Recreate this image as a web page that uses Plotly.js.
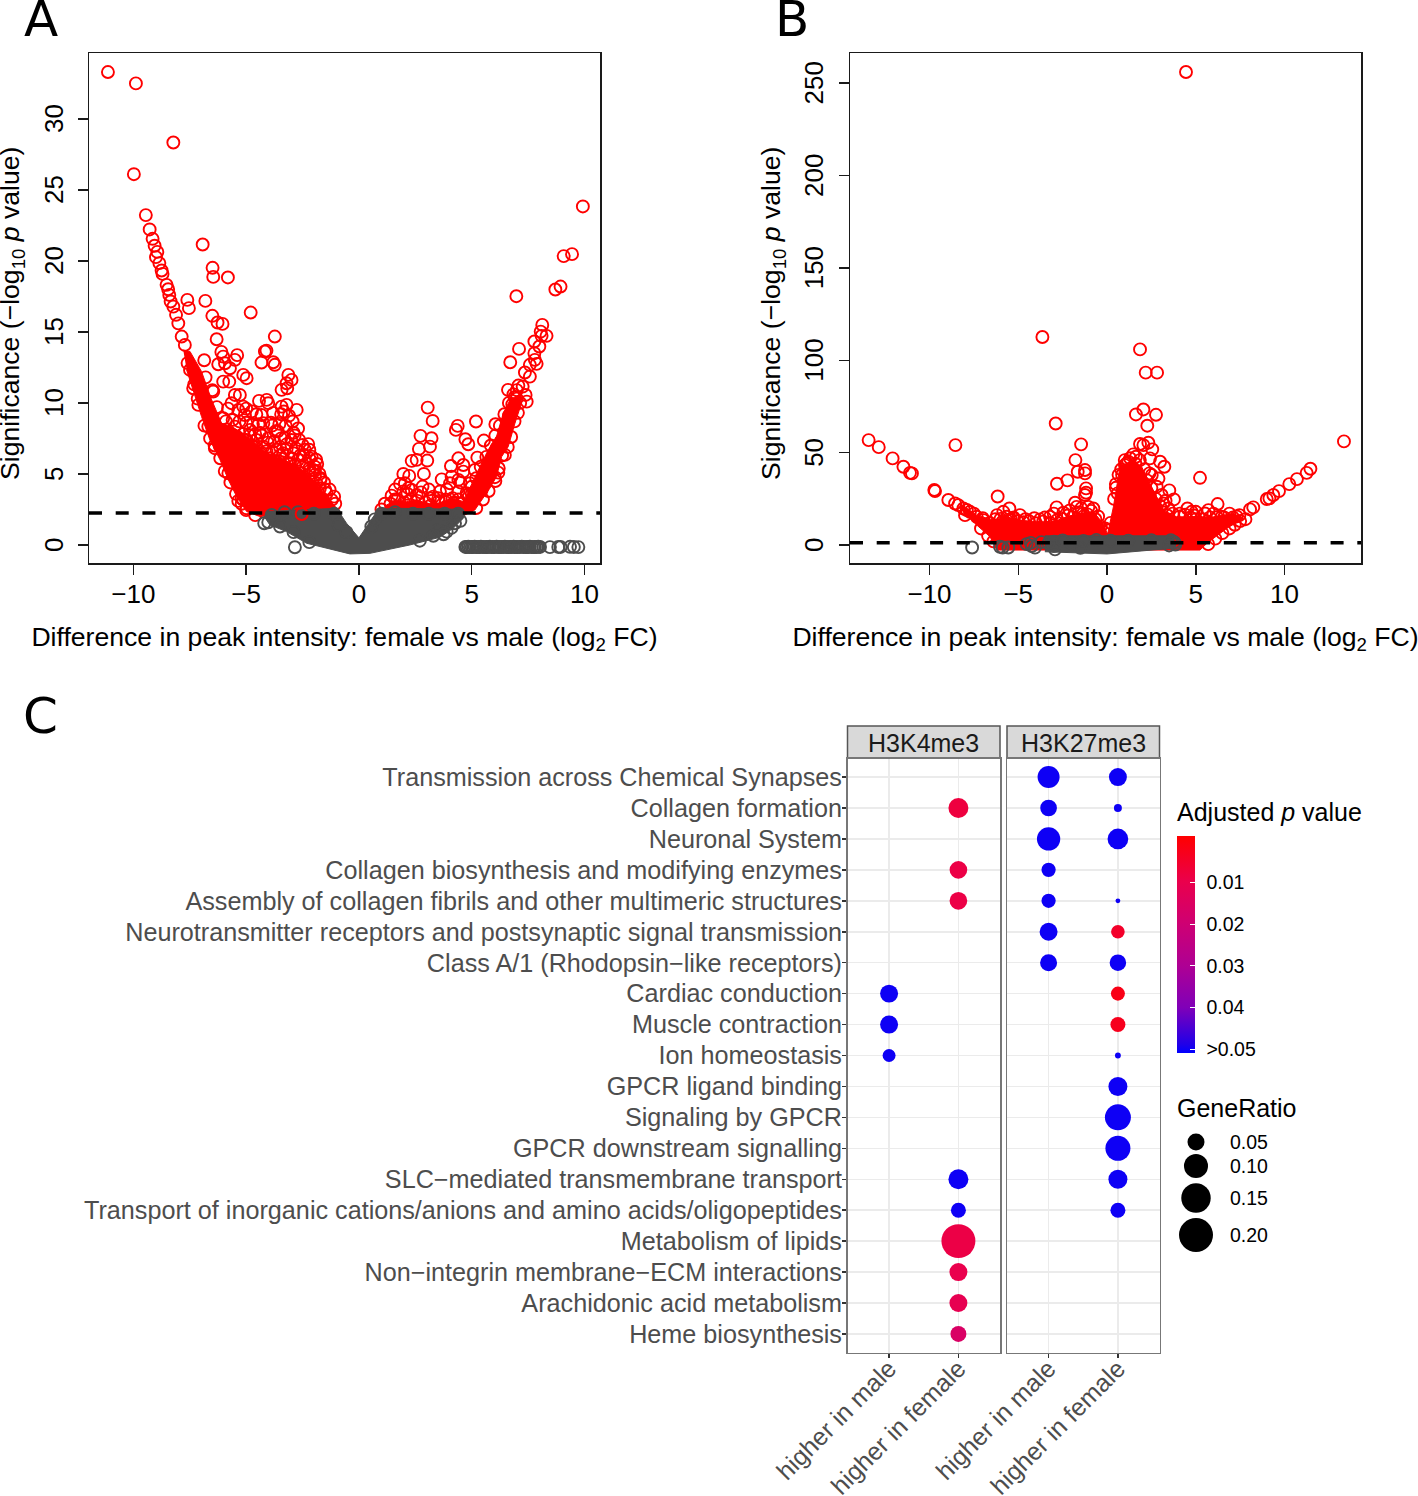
<!DOCTYPE html>
<html><head><meta charset="utf-8"><script src="https://cdn.plot.ly/plotly-3.0.1.min.js"></script>
<style>html,body{margin:0;padding:0;background:#fff}</style></head><body><div id="g" style="width:1418px;height:1496px"></div>
<script>
// Values are read by eye from the picture. Circles that can be told apart are listed one by one;
// where thousands of circles overlap into a solid mass, only the outline of that mass is readable,
// so it is kept as an outline (cloud arrays) rather than as invented individual points.
const aRedX=[-11.13,-9.89,-8.23,-9.98,-9.45,-9.28,-9.15,-9.06,-8.94,-9.0,-8.85,-8.75,-8.71,-8.53,-8.46,-8.41,-8.35,-8.23,-8.11,-8.01,-7.86,-7.72,-7.61,-7.54,-6.93,-6.49,-6.46,-5.81,-6.81,-6.5,-6.27,-6.05,-4.8,-6.31,-3.73,-6.86,-6.1,-6.02,-6.24,-5.94,-5.72,-5.4,-5.5,-5.13,-4.98,-6.02,-5.75,-6.46,-5.5,-5.28,-5.65,-5.13,-4.17,-4.1,-4.32,-3.8,-3.73,-3.13,-2.99,-3.21,-3.43,-3.18,-4.43,-4.09,-4.02,-3.43,-3.21,-2.76,-3.33,-4.32,-4.24,-3.53,-2.94,-4.02,-3.3,-3.0,-2.5,-2.1,-1.95,-1.95,-1.73,-1.21,-6.39,-6.68,-7.12,-7.35,-7.49,-6.02,-5.5,-5.06,-4.83,-5.57,-4.98,-4.54,-5.28,-4.69,-4.24,-3.65,-3.95,-3.36,-2.91,-2.47,-3.06,-2.32,-2.03,-2.62,-1.88,-1.43,-3.13,-5.13,-5.2,-4.98,-5.79,-6.16,-5.79,-2.2,-2.7,-3.5,-4.4,-3.2,-3.9,-2.9,-2.4,-1.7,-1.5,-3.55,-4.75,-2.75,-3.7,
-5.8,-5.35,-5.0,-4.75,-4.55,-3.8,-3.45,-3.1,-5.9,-5.6,-5.3,-5.0,-4.7,-4.45,-3.85,-3.6,-3.25,-2.7,-5.95,-5.7,-5.4,-5.15,-4.85,-4.6,-4.3,-4.05,-3.75,-3.45,-2.85,-2.65,-2.25,-2.2,-5.65,-5.35,-5.1,-4.9,-4.6,-4.35,-4.1,-3.85,-3.5,-3.2,-3.0,-2.8,-2.6,-2.2,-1.9,-1.85,-4.7,-4.45,-4.2,-3.9,-3.7,-3.35,-3.1,-2.85,-2.5,-2.2,-1.95,-1.75,-1.7,-1.55,-1.3,-1.1,-1.05,-7.15,-7.3,-7.6,-6.85,-6.6,-6.4,-6.15,-5.95,-5.7,-5.45,-5.35,-5.2,-5.0,-4.6,-6.8,-6.5,-6.3,
1.45,1.82,2.04,1.97,2.23,2.34,2.56,2.66,2.73,2.82,2.88,3.03,3.05,3.15,3.15,3.22,3.27,2.34,1.97,2.56,4.38,4.3,5.19,4.72,4.85,5.54,6.05,5.25,4.41,4.08,4.63,4.63,4.11,3.67,5.14,4.92,4.41,4.04,3.59,4.41,4.77,3.52,4.18,5.44,6.18,6.03,6.47,6.1,6.98,7.1,6.71,7.36,7.58,6.61,7.07,7.26,7.39,7.44,7.58,7.88,7.8,7.78,8.0,7.78,8.1,8.32,8.06,8.13,8.71,8.94,9.08,9.45,9.93,6.8,6.65,6.5,6.3,6.9,7.0,5.9,5.6,5.4,5.0,3.3,3.85,2.15,1.6,
6.9,7.05,7.15,6.75,6.6,6.35,6.2,6.05,5.75,5.5,5.2,6.45,6.25,6.05,5.85,5.65,5.4,5.2,5.0,4.8,4.55,6.65,6.85,7.0,1.15,1.4,1.7,2.0,2.3,2.6,2.95,3.2,3.55,3.85,4.15,4.4,1.0,1.6,2.2,2.75,3.1,3.9,4.5];
const aRedY=[33.29,32.49,28.33,26.1,23.22,22.21,21.55,21.06,20.63,20.26,19.84,19.32,19.08,18.31,18.0,17.6,17.14,16.78,16.2,15.6,14.67,14.08,17.25,16.67,21.15,19.51,18.87,18.83,17.18,16.13,15.66,15.56,16.36,14.48,14.67,13.0,13.59,13.26,12.72,12.79,12.44,13.36,13.03,11.97,11.74,11.5,11.5,10.8,10.56,10.56,9.98,9.74,13.62,13.68,12.84,12.86,12.68,11.97,11.62,11.38,10.92,11.03,10.14,10.21,9.98,9.74,9.86,9.51,9.39,9.15,8.57,8.52,8.69,7.51,7.51,7.39,7.04,6.22,5.23,4.93,3.99,3.17,6.81,8.33,9.86,11.03,12.32,8.92,8.33,9.15,8.1,7.51,7.39,7.39,6.81,6.57,6.92,6.69,6.1,6.46,6.46,6.34,5.75,5.75,5.28,5.05,4.34,3.64,5.05,3.17,3.29,2.58,5.05,6.92,6.46,5.2,6.0,6.9,7.9,7.1,8.6,7.9,6.7,4.7,3.9,5.9,7.0,4.3,8.0,
9.6,9.5,9.6,9.4,9.2,9.3,9.2,9.1,8.7,8.8,8.7,8.6,8.5,8.5,8.4,8.0,8.4,8.2,7.9,7.7,7.6,7.8,7.7,7.8,7.7,7.2,7.3,7.5,7.7,7.4,7.1,6.7,6.7,6.5,6.8,6.4,6.9,6.4,6.6,6.6,6.3,6.8,6.1,6.8,6.3,6.1,6.0,5.7,5.9,5.7,6.0,5.7,5.9,5.8,5.7,5.6,5.5,5.4,5.5,5.0,4.6,4.4,3.9,3.4,2.9,10.3,11.3,12.8,8.4,7.5,7.0,6.1,5.2,4.4,3.6,3.1,2.9,2.45,2.1,11.8,10.9,9.7,
3.47,4.3,4.34,5.0,4.86,5.92,5.99,6.76,7.68,4.11,5.0,5.94,9.67,6.92,3.29,7.51,8.73,3.87,3.76,3.52,8.38,8.1,8.69,7.44,7.09,7.35,8.5,6.15,6.1,5.56,5.63,5.16,4.81,4.62,5.28,4.34,4.58,4.34,3.76,3.76,3.64,3.29,2.93,3.87,5.09,4.77,6.34,6.81,17.51,13.8,12.86,12.14,11.85,10.92,11.22,11.15,10.56,10.09,12.68,12.75,13.03,13.5,13.97,14.32,14.72,14.72,15.02,15.49,17.98,18.19,20.33,20.47,23.83,9.9,9.1,8.1,7.3,10.4,10.9,5.7,5.0,4.4,3.6,3.4,3.2,3.6,3.2,
8.7,9.3,10.0,7.6,6.9,6.3,5.4,4.5,3.8,3.2,2.6,9.2,8.4,7.7,7.0,6.2,5.5,4.7,4.1,3.5,2.9,10.0,10.6,10.3,2.9,2.9,3.2,3.0,3.2,3.1,3.0,2.8,3.1,3.0,3.3,3.2,2.5,3.9,4.0,3.7,3.9,3.9,4.4];
const aRedCloudX=[-7.79,-7.49,-6.98,-6.53,-6.09,-5.6,-5.1,-4.6,-4.1,-3.4,-2.76,-2.03,-1.43,-0.99,-4.39,-4.98,-5.42,-5.79,-6.16,-6.61,-6.98,-7.35,-7.64];
const aRedCloudY=[13.73,13.62,12.21,10.21,8.57,8.3,7.8,7.2,6.5,6.0,5.6,4.6,3.4,2.58,2.0,2.35,3.4,4.58,5.99,7.39,9.04,10.92,12.32];
const aRedCloud2X=[1.0,1.23,1.67,2.11,2.56,3.22,3.74,4.18,4.63,5.0,5.37,5.73,6.1,6.4,6.7,7.07,7.21,6.92,6.62,6.33,6.1,5.81,5.51,5.14,4.7,1.0];
const aRedCloud2Y=[2.28,2.82,3.17,3.05,3.17,2.82,3.05,3.29,3.05,4.34,5.52,6.69,7.63,9.27,10.21,10.56,9.98,8.57,6.92,6.22,4.81,4.0,3.29,2.46,2.11,2.11];
const aGreyCloudX=[-4.09,-0.99,-0.55,0,0.86,1.82,4.55,4.63,4.18,3.59,2.26,0.49,-0.4,-1.14,-2.32,-3.21,-3.95,-4.2];
const aGreyCloudY=[2.35,2.58,1.53,0.5,2.51,2.58,2.51,1.88,1.17,0.54,0,-0.59,-0.63,-0.35,0.12,0.94,1.41,2.0];
const aGreyX=[-2.84,-4.2,-4.02,-3.87,3.52,3.89,4.26,4.72,4.78,4.85,4.92,5.0,5.06,5.13,5.2,5.28,5.35,5.41,5.5,5.58,5.66,5.71,5.8,5.88,5.95,6.02,6.1,6.17,6.25,6.31,6.4,6.47,6.56,6.62,6.7,6.78,6.86,6.91,7.0,7.05,7.14,7.22,7.3,7.38,7.45,7.5,7.58,7.66,7.74,7.8,7.88,7.95,8.03,8.47,8.84,8.94,9.36,9.53,9.73,
-3.3,-2.7,-2.0,-1.1,1,1.6,2.4,3.1,3.8,4.4,4.5,4.1,3.75,3.3,2.7,-3.5,-2.9,-2.2,-0.9,-0.55,0.55,0.7];
const aGreyY=[-0.16,1.53,1.6,2.11,1.06,0.94,1.53,-0.14,-0.14,-0.13,-0.15,-0.14,-0.14,-0.13,-0.14,-0.15,-0.14,-0.13,-0.14,-0.15,-0.14,-0.14,-0.13,-0.15,-0.14,-0.14,-0.13,-0.14,-0.15,-0.14,-0.14,-0.13,-0.14,-0.15,-0.14,-0.14,-0.13,-0.14,-0.15,-0.14,-0.14,-0.13,-0.14,-0.15,-0.14,-0.14,-0.13,-0.14,-0.15,-0.14,-0.14,-0.13,-0.14,-0.15,-0.14,-0.14,-0.13,-0.14,-0.15,
2.3,2.3,2.2,2.2,2.2,2.3,2.2,2.2,2.2,2.2,1.7,1.2,0.75,0.65,0.3,1.3,0.9,0.2,1.4,0.9,1.3,1.8];
const aLateRedX=[-2.54]; const aLateRedY=[2.18];
const aThreshold=2.25;

const bRedX=[4.45,-3.64,-2.89,-1.46,-8.54,-13.43,-12.86,-12.08,-11.47,-11.1,-10.99,-9.73,-9.69,-8.94,-8.56,-8.38,-8.0,-8.09,-7.72,-7.34,-6.97,-6.16,-1.78,-1.65,-1.24,-1.24,-2.23,-2.82,-1.18,-1.18,-1.24,-2.84,-1.8,-1.71,-1.05,-0.77,-2.46,-3.21,-3.77,-4.9,-5.5,-5.84,-6.2,-5.65,-5.25,-4.6,-4.1,-3.5,-3.0,-2.1,-1.45,-0.9,-0.5,-6.0,-5.4,
1.86,2.18,2.82,2.05,1.63,2.76,2.27,1.86,2.33,2.05,2.55,1.48,1.63,2.42,2.99,3.23,1.01,1.2,2.39,2.52,5.24,13.35,11.46,11.25,10.7,10.27,9.69,9.37,9.15,9.0,8.24,8.06,7.46,6.23,5.71,4.53,4.77,3.51,3.77,2.8,3.08,3.17,3.45,6.46,5.52,0.6,0.5,0.85,1.1,2.9,3.3,4.1,4.9,5.0,6.0,6.9,7.3,7.8,
-7.9,-7.5,-7.0,-6.6,-6.3,-5.9,-5.6,-5.3,-5.05,-4.7,-4.4,-4.0,-3.6,-3.2,-2.8,-2.5,-2.2,-1.95,-1.6,-1.35,-1.1,-0.65,-0.35,-7.1,-6.7,-6.4,
0.4,0.5,0.65,0.8,1.0,1.3,1.6,1.85,2.1,2.25,2.5,2.75,3.0,3.4,3.7,4.1,4.4,4.7,5.0,5.4,5.8,6.2,6.6,7.1,7.5,7.2,6.9,6.5,6.1,5.7,0.2,0.1,-0.1];
const bRedY=[256,112.6,65.8,54.5,54.1,56.8,53.0,46.9,42.4,39.1,38.8,29.8,29.2,24.4,22.5,21.6,16.2,19.8,18.0,15.3,13.5,26.3,46.0,39.7,40.6,38.8,35.0,33.2,30.7,28.3,27.1,20.4,22.9,20.7,20.7,19.8,17.5,15.3,13.9,16.2,19.8,18.0,16.2,15.3,14.9,14.0,14.5,14.9,17.0,18.7,19.9,18.5,15.5,14.2,13.6,
105.9,93.3,93.3,73.4,70.7,70.5,64.6,54.7,55.4,54.1,51.8,49.1,47.8,46.9,45.1,42.4,43.3,45.1,38.8,37.9,36.4,56.1,41.3,39.1,35.7,33.0,29.2,27.1,25.3,24.9,20.4,19.3,16.2,22.2,18.9,19.8,18.0,29.6,24.7,31.6,27.1,22.5,19.8,15.3,17.1,28,33,38,44,36,24,17,16,18,17,17,15.5,14,
19,17,14.5,12,14,12.5,13,14.6,13,12.4,13,11.8,12.7,12,13.6,14.2,16,15,17.7,17,16.6,14,10,9,5,2,
25,31,38,41,46,47,44,46,41,35,31,25,21,16,17,15.5,16.5,15,14,14,15,15,15,15,13,11,9,6.5,3.5,0.5,12,8,9];
const bRedCloudX=[-8.28,-7.34,-6.4,-5.65,-4.9,-3.96,-3.02,-2.27,-1.52,-0.77,-0.21,0.08,0.08,-6.22,-6.59,-7.44,-8.28];
const bRedCloudY=[22.5,16.2,13.5,15.3,13.5,12.6,12.6,15.3,17.1,18.0,11.7,4.5,-2.7,-2.7,4.5,11.7,19.8];
const bRedCloud2X=[0,0.36,0.73,1.48,1.95,2.23,2.7,3.17,3.92,5.24,5.99,7.12,7.68,6.74,5.62,5.24,0.36];
const bRedCloud2Y=[4.5,20.7,42.4,46,42.4,37,28,18.9,15.3,15.3,15.3,17.1,14.4,9,0.9,-2.7,-2.7];
const bGreyCloudX=[-3.5,3.74,3.8,3.6,0,-3.5];
const bGreyCloudY=[5,5,0,-1.8,-4.8,-3.6];
const bGreyX=[-7.6,-6.03,-5.88,-5.56,-4.53,-4.24,-4.06,-2.99,-2.93,-1.33,-3.7,-4.3,-3.3,-3.0,3.8,3.5,3.85,3.6,-2.5,-2,-1.5,1.2,2.5,0.2,-0.6];
const bGreyY=[-1.3,-0.9,-1.3,-1.3,0.5,-0.5,-1.4,1.8,-2.3,2.3,1.6,1.2,1,-0.5,1.5,-0.2,0.3,2.6,2.5,1,-1.5,2.4,2.6,2.4,2.8];
const bThreshold=1.3;

const pathways=["Transmission across Chemical Synapses","Collagen formation","Neuronal System","Collagen biosynthesis and modifying enzymes","Assembly of collagen fibrils and other multimeric structures","Neurotransmitter receptors and postsynaptic signal transmission","Class A/1 (Rhodopsin\u2212like receptors)","Cardiac conduction","Muscle contraction","Ion homeostasis","GPCR ligand binding","Signaling by GPCR","GPCR downstream signalling","SLC\u2212mediated transmembrane transport","Transport of inorganic cations/anions and amino acids/oligopeptides","Metabolism of lipids","Non\u2212integrin membrane\u2212ECM interactions","Arachidonic acid metabolism","Heme biosynthesis"];
const groups=["higher in male","higher in female"];
const k4Path=[7,8,9,1,3,4,13,14,15,16,17,18];
const k4Group=[0,0,0,1,1,1,1,1,1,1,1,1];
const k4Ratio=[.056,.056,.029,.069,.054,.054,.069,.039,.2,.056,.056,.044];
const k4P=[.05,.05,.05,.008,.009,.009,.05,.05,.009,.010,.011,.016];
const k27Path=[0,1,2,3,4,5,6,0,1,2,4,5,6,7,8,9,10,11,12,13,14];
const k27Group=[0,0,0,0,0,0,0,1,1,1,1,1,1,1,1,1,1,1,1,1,1];
const k27Ratio=[.084,.048,.094,.035,.035,.056,.05,.056,.011,.074,.004,.032,.047,.034,.039,.006,.0625,.117,.108,.0625,.039];
const k27P=[.05,.05,.05,.05,.05,.05,.05,.05,.05,.05,.05,.005,.05,.002,.003,.05,.05,.05,.05,.05,.05];
const pTicks=[.01,.02,.03,.04,.05];
const pTickText=["0.01","0.02","0.03","0.04",">0.05"];
const ratioKeys=[.05,.10,.15,.20];
const ratioKeyText=["0.05","0.10","0.15","0.20"];

const W=1418,H=1496,FONT='"Liberation Sans",Arial,sans-serif';
const dx=(a,b)=>[a/W,b/W], dy=(top,bot)=>[1-bot/H,1-top/H];
const RED='#ff0000',GREY='#4d4d4d';
const ring=c=>({symbol:'circle-open',size:12,color:c,opacity:1,line:{width:1.9,color:c}});
const cloud=(x,y,c,ax,ay)=>({type:'scatter',mode:'lines',x:x,y:y,xaxis:ax,yaxis:ay,fill:'toself',fillcolor:c,line:{width:1,color:c},hoverinfo:'skip'});
const pts=(x,y,c,ax,ay)=>({type:'scatter',mode:'markers',x:x,y:y,xaxis:ax,yaxis:ay,marker:ring(c)});
const dash=(rng,t,ax,ay)=>({type:'scatter',mode:'lines',x:rng,y:[t,t],xaxis:ax,yaxis:ay,line:{color:'#000',width:3.5,dash:'13px,13.7px'}});
// The key runs from small p at the top to large p at the bottom, so colours are carried as -p.
const cs=[[0,'#0000ff'],[.04,'#2000e8'],[.21,'#8000b8'],[.40,'#ae0094'],[.60,'#cf0072'],[.79,'#ea004c'],[1,'#ff0000']];
const SIZEREF=1/2888;
const dots=(path,grp,ratio,p,ax,ay,bar)=>({type:'scatter',mode:'markers',x:grp.map(i=>groups[i]),y:path.map(i=>pathways[i]),xaxis:ax,yaxis:ay,
  marker:{size:ratio,sizemode:'area',sizeref:SIZEREF,opacity:1,color:p.map(v=>-v),cmin:-.0509,cmax:.0011,colorscale:cs,line:{width:0},showscale:bar,
  colorbar:bar?{x:1177/W,xanchor:'left',xpad:0,y:1-836/H,yanchor:'top',ypad:0,len:217/H,lenmode:'fraction',thickness:18,thicknessmode:'pixels',outlinewidth:0,
    tickmode:'array',tickvals:pTicks.map(v=>-v),ticktext:pTickText.map(t=>'\u00a0\u200a'+t),ticks:'inside',tickcolor:'#fff',ticklen:5,tickwidth:1,tickfont:{family:FONT,size:19.5,color:'#000'}}:undefined}});
const data=[
 cloud(aRedCloudX,aRedCloudY,RED,'x','y'),cloud(aRedCloud2X,aRedCloud2Y,RED,'x','y'),pts(aRedX,aRedY,RED,'x','y'),
 cloud(aGreyCloudX,aGreyCloudY,GREY,'x','y'),pts(aGreyX,aGreyY,GREY,'x','y'),pts(aLateRedX,aLateRedY,RED,'x','y'),
 dash([-11.97,10.69],aThreshold,'x','y'),
 cloud(bRedCloudX,bRedCloudY,RED,'x2','y2'),cloud(bRedCloud2X,bRedCloud2Y,RED,'x2','y2'),pts(bRedX,bRedY,RED,'x2','y2'),
 cloud(bGreyCloudX,bGreyCloudY,GREY,'x2','y2'),pts(bGreyX,bGreyY,GREY,'x2','y2'),
 dash([-14.48,14.31],bThreshold,'x2','y2'),
 dots(k4Path,k4Group,k4Ratio,k4P,'x3','y3',true),
 dots(k27Path,k27Group,k27Ratio,k27P,'x4','y4',false),
 {type:'scatter',mode:'markers',x:ratioKeys.map(()=>0),y:[1142,1166,1198,1235],xaxis:'x5',yaxis:'y5',marker:{size:ratioKeys,sizemode:'area',sizeref:SIZEREF,opacity:1,color:'#000',line:{width:0}}}
];
const tf={family:FONT,size:26,color:'#000'};
const titleFont={family:FONT,size:26.6,color:'#000'};
const XT='Difference in peak intensity: female vs male (log<sub>2</sub> FC)';
const YT='Significance (\u2212log<sub>10</sub> <i>p</i> value)';
const vol=(dom,rng,tv,extra)=>Object.assign({domain:dom,range:rng,tickmode:'array',tickvals:tv,showgrid:false,zeroline:false,showline:true,mirror:true,linecolor:'#1a1a1a',linewidth:1.5,ticks:'outside',ticklen:10,tickwidth:1.5,tickcolor:'#1a1a1a',tickfont:tf},extra);
const xVol=(dom,rng,a)=>vol(dom,rng,[-10,-5,0,5,10],{anchor:a,ticklabelstandoff:-3,title:{text:XT,font:titleFont,standoff:19}});
const yVol=(dom,rng,tv,a,ls)=>vol(dom,rng,tv,{anchor:a,tickangle:-90,ticktext:tv.map(v=>v+'\u00a0'),ticklabelstandoff:ls});
const catBase=(dom)=>({domain:dom,showline:true,mirror:true,linecolor:'#777',linewidth:1.5,showgrid:true,gridcolor:'#ebebeb',gridwidth:1.5,zeroline:false,ticks:'outside',ticklen:4,tickwidth:1.5,tickcolor:'#333'});
const catX=dom=>Object.assign(catBase(dom),{type:'category',categoryorder:'array',categoryarray:groups,range:[-.6,1.6],tickangle:-45,ticklabelstandoff:-14,tickfont:{family:FONT,size:25,color:'#4d4d4d'}});
const catY=(dom,labels)=>Object.assign(catBase(dom),{type:'category',categoryorder:'array',categoryarray:pathways,tickmode:'array',tickvals:pathways,range:[18.6,-.6],showticklabels:labels,ticklabelstandoff:-5,tickfont:{family:FONT,size:25.2,color:'#4d4d4d'},ticks:labels?'outside':''});
const ann=(text,px,py,size,anchor,extra)=>Object.assign({text:text,xref:'paper',yref:'paper',x:px/W,y:1-py/H,xanchor:anchor||'left',yanchor:'middle',showarrow:false,font:{family:FONT,size:size,color:'#000'}},extra||{});
const strip=(a,b)=>({type:'rect',xref:'paper',yref:'paper',x0:a/W,x1:b/W,y0:1-758/H,y1:1-726/H,fillcolor:'#d9d9d9',line:{color:'#555',width:1.5},layer:'below'});
const ratioY=[1142,1166,1198,1235];
const big={family:'"DejaVu Sans"',size:50,color:'#000'};
const layout={width:W,height:H,margin:{l:0,r:0,t:0,b:0},paper_bgcolor:'#fff',plot_bgcolor:'#fff',showlegend:false,font:{family:FONT},hovermode:false,
 xaxis:xVol(dx(89,600),[-11.97,10.69],'y'),
 yaxis:yVol(dy(53,563),[-1.27,34.63],[0,5,10,15,20,25,30],'x',4),
 xaxis2:xVol(dx(850,1361),[-14.48,14.31],'y2'),
 yaxis2:yVol(dy(53,563),[-9.7,266.3],[0,50,100,150,200,250],'x2',5),
 xaxis3:Object.assign(catX(dx(847.5,1000)),{anchor:'y3'}),
 yaxis3:Object.assign(catY(dy(758.5,1352.5),true),{anchor:'x3'}),
 xaxis4:Object.assign(catX(dx(1007,1159.5)),{anchor:'y4'}),
 yaxis4:Object.assign(catY(dy(758.5,1352.5),false),{anchor:'x4'}),
 xaxis5:{domain:dx(1166,1226),range:[-1,1],visible:false,anchor:'y5',fixedrange:true},
 yaxis5:{domain:dy(1120,1260),range:[1260,1120],visible:false,anchor:'x5',fixedrange:true},
 shapes:[strip(847.5,1000),strip(1007,1159.5)],
 annotations:[
  ann('A',22,19,50,'left',{font:big}),
  ann('B',773,19,50,'left',{font:big}),
  ann('C',21,716,50,'left',{font:big}),
  ann(YT,12,314,26.6,'center',{textangle:-90,font:titleFont}),
  ann(YT,773,314,26.6,'center',{textangle:-90,font:titleFont}),
  ann('H3K4me3',923.5,743,25,'center',{font:{family:FONT,size:25,color:'#1a1a1a'}}),
  ann('H3K27me3',1083,743,25,'center',{font:{family:FONT,size:25,color:'#1a1a1a'}}),
  ann('Adjusted <i>p</i> value',1175,812,25),
  ann('GeneRatio',1175,1108,25)
 ].concat(ratioKeyText.map((t,i)=>ann(t,1228,ratioY[i],19.5)))
};
Plotly.newPlot('g',data,layout,{staticPlot:true,displayModeBar:false});
</script></body></html>
